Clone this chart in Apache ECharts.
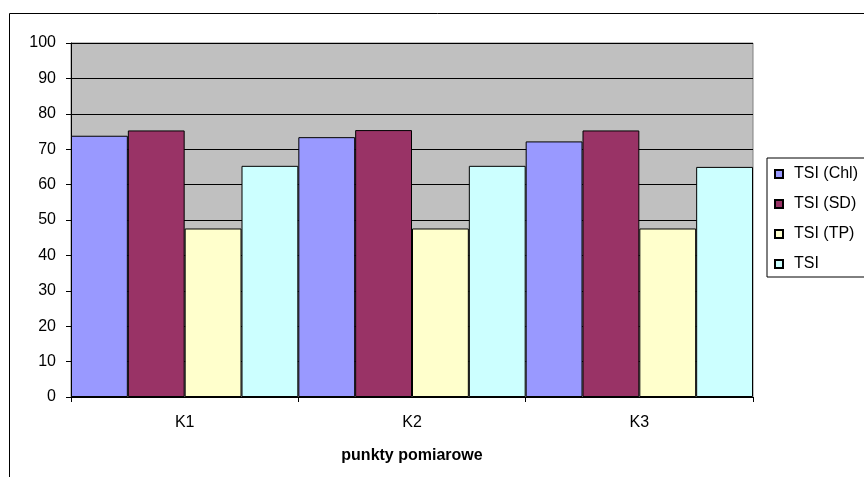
<!DOCTYPE html>
<html>
<head>
<meta charset="utf-8">
<script src="https://cdn.jsdelivr.net/npm/echarts@6/dist/echarts.min.js"></script>
<style>
  html, body { margin: 0; padding: 0; background: #fff; }
  #chart { width: 864px; height: 477px; }
</style>
</head>
<body>
<div id="chart"></div>
<script>
// Measurement points and trophic state index components
const categories = ['K1', 'K2', 'K3'];
const tsiChl = [73.8, 73.4, 72.2];
const tsiSD = [75.3, 75.4, 75.3];
const tsiTP = [47.6, 47.6, 47.6];
const tsiTotal = [65.3, 65.3, 65.0];
const yTicks = { min: 0, max: 100, interval: 10 };

const FONT = '"Liberation Sans", Arial, sans-serif';
const FS = 16;
const chart = echarts.init(document.getElementById('chart'), null, { renderer: 'canvas' });

function barSeries(name, data, color) {
  return {
    name: name,
    type: 'bar',
    data: data,
    barGap: '0%',
    barCategoryGap: '0%',
    itemStyle: { color: color, borderColor: '#000', borderWidth: 1 },
    emphasis: { disabled: true }
  };
}

chart.setOption({
  animation: false,
  textStyle: { fontFamily: FONT },
  graphic: [{
    type: 'rect',
    shape: { x: 9.5, y: 13.5, width: 900, height: 500 },
    style: { fill: 'none', stroke: '#000', lineWidth: 1 },
    silent: true,
    z: -10
  }],
  grid: {
    left: 71, top: 43, width: 682, height: 354,
    show: true,
    backgroundColor: '#C0C0C0',
    borderColor: '#808080',
    borderWidth: 1
  },
  legend: {
    orient: 'vertical',
    left: 767, top: 158,
    backgroundColor: '#fff',
    borderColor: '#000',
    borderWidth: 1,
    borderRadius: 0,
    padding: [8, 14, 5, 7],
    itemWidth: 8, itemHeight: 8,
    itemGap: 14,
    icon: 'rect',
    textStyle: { fontFamily: FONT, fontSize: FS, color: '#000', lineHeight: 16, padding: [0, 0, 0, 6] },
    data: ['TSI (Chl)', 'TSI (SD)', 'TSI (TP)', 'TSI']
  },
  xAxis: {
    type: 'category',
    data: categories,
    name: 'punkty pomiarowe',
    nameLocation: 'middle',
    nameGap: 51,
    nameTextStyle: { fontFamily: FONT, fontSize: FS, fontWeight: 'bold', color: '#000' },
    axisLine: { lineStyle: { color: '#000', width: 1 } },
    axisTick: { show: true, length: 5, lineStyle: { color: '#000' } },
    axisLabel: { fontFamily: FONT, fontSize: FS, color: '#000', margin: 18 },
    splitLine: { show: false }
  },
  yAxis: {
    type: 'value',
    min: yTicks.min, max: yTicks.max, interval: yTicks.interval,
    axisLine: { show: true, lineStyle: { color: '#000', width: 1 } },
    axisTick: { show: true, length: 5, lineStyle: { color: '#000' } },
    axisLabel: { fontFamily: FONT, fontSize: FS, color: '#000', margin: 15 },
    splitLine: { show: true, lineStyle: { color: '#000', width: 1 } }
  },
  series: [
    barSeries('TSI (Chl)', tsiChl, '#9999FF'),
    barSeries('TSI (SD)', tsiSD, '#993366'),
    barSeries('TSI (TP)', tsiTP, '#FFFFCC'),
    barSeries('TSI', tsiTotal, '#CCFFFF')
  ]
});
</script>
</body>
</html>
